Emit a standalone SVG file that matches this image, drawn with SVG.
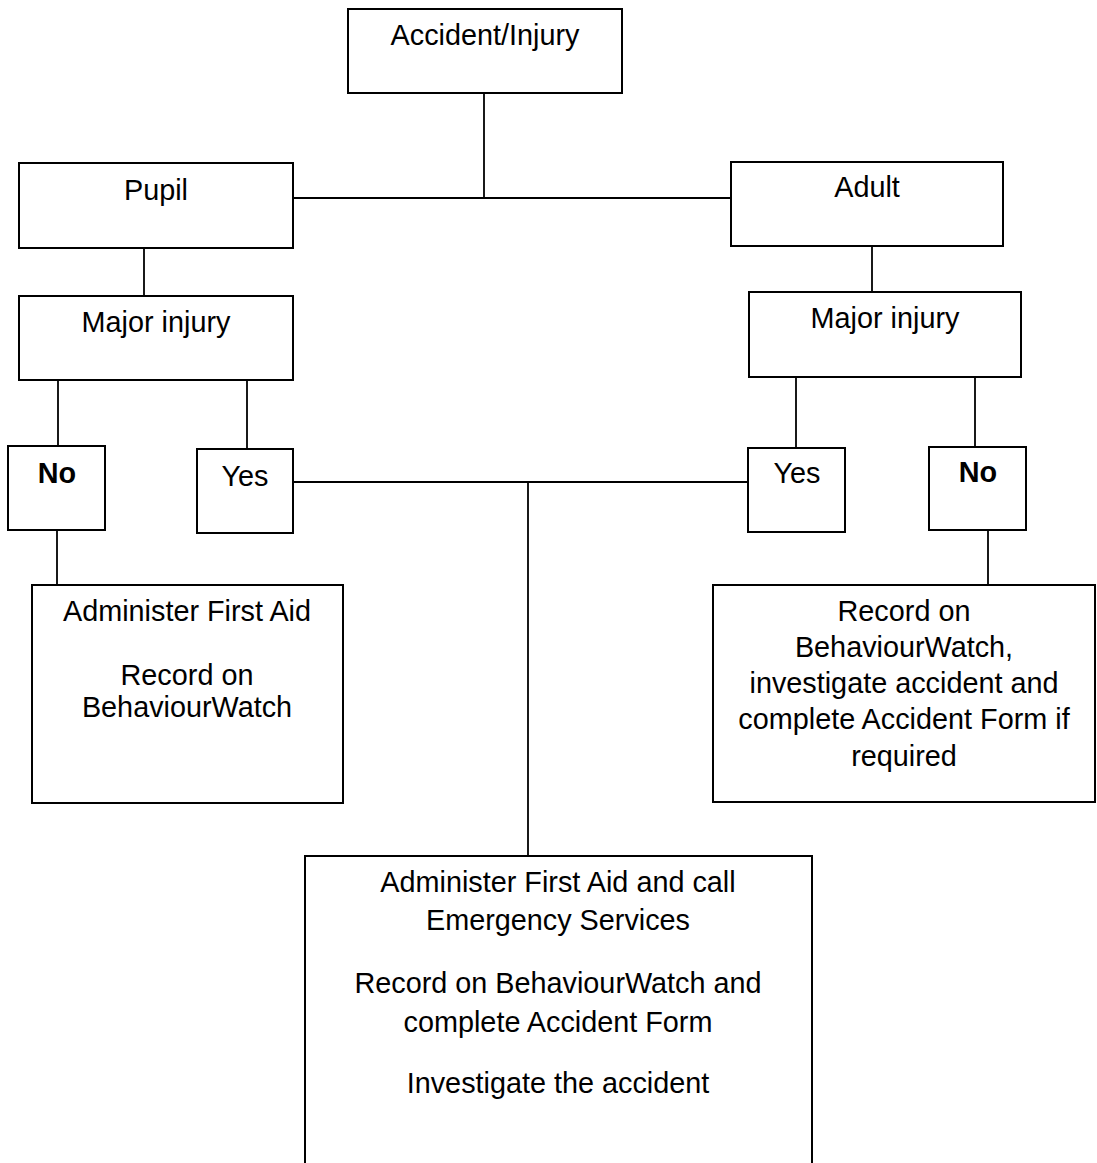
<svg xmlns="http://www.w3.org/2000/svg" width="1097" height="1163" viewBox="0 0 1097 1163">
<style>
.box{fill:#fff;stroke:#000;stroke-width:2}
.ln{fill:none;stroke:#000;stroke-width:1.8}
text{font-family:"Liberation Sans",Arial,sans-serif;font-size:28.8px;fill:#000;text-anchor:middle}
.b{font-weight:bold}
</style>
<rect width="1097" height="1163" fill="#fff"/>
<g id="connectors">
<line class="ln" x1="484" y1="93" x2="484" y2="198"/>
<line class="ln" x1="293" y1="198" x2="731" y2="198"/>
<line class="ln" x1="144" y1="248" x2="144" y2="296"/>
<line class="ln" x1="872" y1="246" x2="872" y2="292"/>
<line class="ln" x1="58" y1="380" x2="58" y2="446"/>
<line class="ln" x1="247" y1="380" x2="247" y2="449"/>
<line class="ln" x1="796" y1="377" x2="796" y2="448"/>
<line class="ln" x1="975" y1="377" x2="975" y2="447"/>
<line class="ln" x1="293" y1="482" x2="748" y2="482"/>
<line class="ln" x1="528" y1="482" x2="528" y2="856"/>
<line class="ln" x1="57" y1="530" x2="57" y2="585"/>
<line class="ln" x1="988" y1="530" x2="988" y2="585"/>
</g>
<g id="accident"><rect class="box" x="348" y="9" width="274" height="84"/><text x="485" y="45">Accident/Injury</text></g>
<g id="pupil"><rect class="box" x="19" y="163" width="274" height="85"/><text x="156" y="200">Pupil</text></g>
<g id="adult"><rect class="box" x="731" y="162" width="272" height="84"/><text x="867" y="197">Adult</text></g>
<g id="major-pupil"><rect class="box" x="19" y="296" width="274" height="84"/><text x="156" y="332">Major injury</text></g>
<g id="major-adult"><rect class="box" x="749" y="292" width="272" height="85"/><text x="885" y="328">Major injury</text></g>
<g id="no-pupil"><rect class="box" x="8" y="446" width="97" height="84"/><text class="b" x="57" y="483">No</text></g>
<g id="yes-pupil"><rect class="box" x="197" y="449" width="96" height="84"/><text x="245" y="486">Yes</text></g>
<g id="yes-adult"><rect class="box" x="748" y="448" width="97" height="84"/><text x="797" y="483">Yes</text></g>
<g id="no-adult"><rect class="box" x="929" y="447" width="97" height="83"/><text class="b" x="978" y="482">No</text></g>
<g id="first-aid"><rect class="box" x="32" y="585" width="311" height="218"/>
<text x="187" y="621">Administer First Aid</text>
<text x="187" y="685">Record on</text>
<text x="187" y="717">BehaviourWatch</text></g>
<g id="record-adult"><rect class="box" x="713" y="585" width="382" height="217"/>
<text x="904" y="621">Record on</text>
<text x="904" y="657">BehaviourWatch,</text>
<text x="904" y="693">investigate accident and</text>
<text x="904" y="729">complete Accident Form if</text>
<text x="904" y="766">required</text></g>
<g id="emergency"><rect class="box" x="305" y="856" width="507" height="330"/>
<text x="558" y="892">Administer First Aid and call</text>
<text x="558" y="930">Emergency Services</text>
<text x="558" y="993">Record on BehaviourWatch and</text>
<text x="558" y="1032">complete Accident Form</text>
<text x="558" y="1093">Investigate the accident</text></g>
</svg>
